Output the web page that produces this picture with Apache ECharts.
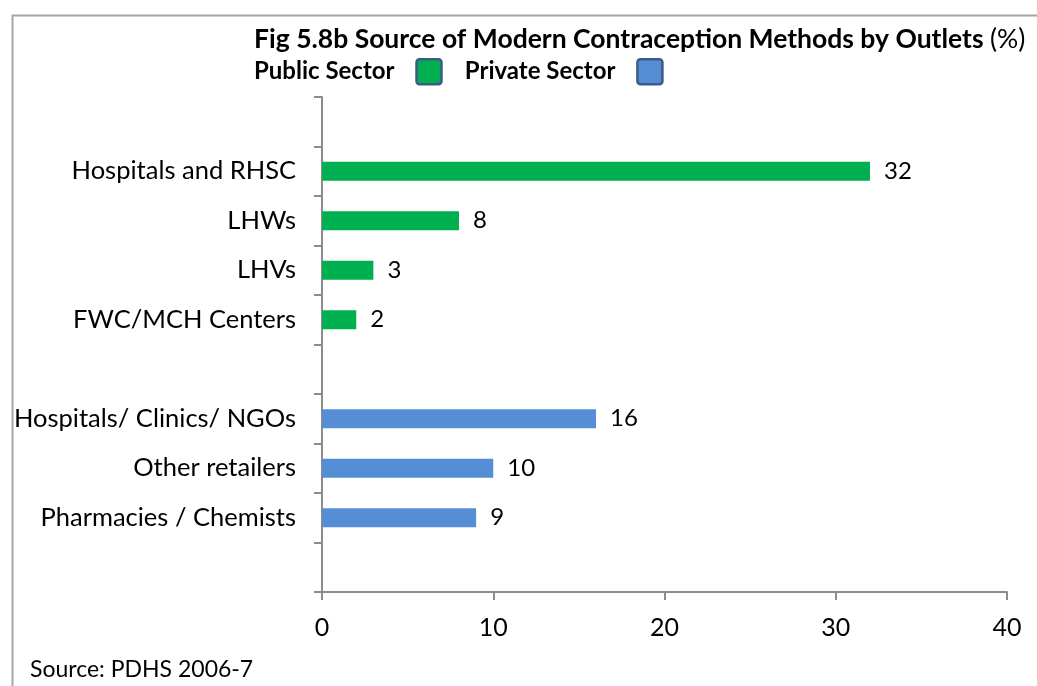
<!DOCTYPE html>
<html>
<head>
<meta charset="utf-8">
<script src="https://cdn.jsdelivr.net/npm/echarts@6/dist/echarts.min.js"></script>
<style>
  html, body { margin: 0; padding: 0; background: #fff; }
  #chart { width: 1037px; height: 686px; }
</style>
</head>
<body>
<div id="chart"></div>
<script>
// categories, top to bottom (blank rows are spacers)
const outlets = [' ', 'Hospitals and RHSC', 'LHWs', 'LHVs', 'FWC/MCH Centers', '  ',
  'Hospitals/ Clinics/ NGOs', 'Other retailers', 'Pharmacies / Chemists', '   ']
const publicSector = [null, 32, 8, 3, 2, null, null, null, null, null]
const privateSector = [null, null, null, null, null, null, 16, 10, 9, null]
const xTicks = [0, 10, 20, 30, 40]

const FONT = 'Lato, "Noto Sans", sans-serif'
const axisGray = '#8c8c8c'
// square legend marker with small rounded corners
const boxIcon = 'path://M3,0H22A3,3,0,0,1,25,3V22A3,3,0,0,1,22,25H3A3,3,0,0,1,0,22V3A3,3,0,0,1,3,0Z'

const chart = echarts.init(document.getElementById('chart'))

const barLabel = {
  show: true,
  position: 'right',
  distance: 14,
  fontFamily: FONT,
  fontSize: 24,
  color: '#000',
}

chart.setOption({
  backgroundColor: '#fff',
  animation: false,
  title: [
    {
      text: '{b|Fig 5.8b Source of Modern Contraception Methods by Outlets }{n|(%)}',
      left: 254,
      top: 26,
      padding: 0,
      textStyle: {
        rich: {
          b: { fontFamily: FONT, fontSize: 26.5, fontWeight: 'bold', color: '#000' },
          n: { fontFamily: FONT, fontSize: 26.5, fontWeight: 'normal', color: '#000' },
        },
      },
    },
    {
      text: 'Source: PDHS 2006-7',
      left: 30,
      top: 658,
      padding: 0,
      textStyle: { fontFamily: FONT, fontSize: 23, fontWeight: 'normal', color: '#000' },
    },
  ],
  legend: {
    data: ['Public Sector', 'Private Sector'],
    left: 254,
    top: 58,
    padding: 0,
    align: 'right',
    icon: boxIcon,
    itemWidth: 25,
    itemHeight: 25,
    itemGap: 22,
    itemStyle: { borderColor: '#3b5b88', borderWidth: 2.5 },
    textStyle: {
      fontFamily: FONT,
      fontSize: 24,
      fontWeight: 'bold',
      color: '#000',
      padding: [0, 17, 0, 0],
    },
  },
  grid: { left: 322, right: 30, top: 97, bottom: 94 },
  xAxis: {
    type: 'value',
    min: xTicks[0],
    max: xTicks[xTicks.length - 1],
    interval: 10,
    axisLine: { show: true, lineStyle: { color: axisGray, width: 2 } },
    axisTick: { show: true, length: 8, lineStyle: { color: axisGray, width: 2 } },
    axisLabel: { fontFamily: FONT, fontSize: 25, color: '#000', margin: 23 },
    splitLine: { show: false },
  },
  yAxis: {
    type: 'category',
    inverse: true,
    data: outlets,
    axisLine: { show: true, lineStyle: { color: axisGray, width: 2 } },
    axisTick: { show: true, length: 8, lineStyle: { color: axisGray, width: 2 } },
    axisLabel: { fontFamily: FONT, fontSize: 25.5, color: '#000', margin: 26 },
  },
  series: [
    {
      name: 'Public Sector',
      type: 'bar',
      stack: 'all',
      data: publicSector,
      barWidth: 19,
      itemStyle: { color: '#00b050' },
      label: barLabel,
    },
    {
      name: 'Private Sector',
      type: 'bar',
      stack: 'all',
      data: privateSector,
      barWidth: 19,
      itemStyle: { color: '#558ed5' },
      label: barLabel,
    },
  ],
  graphic: [
    {
      type: 'rect',
      left: 10,
      top: 13,
      shape: { width: 1100, height: 760 },
      style: { fill: 'none', stroke: '#a6a6a6', lineWidth: 2 },
      silent: true,
      z: -1,
    },
  ],
})
</script>
</body>
</html>
